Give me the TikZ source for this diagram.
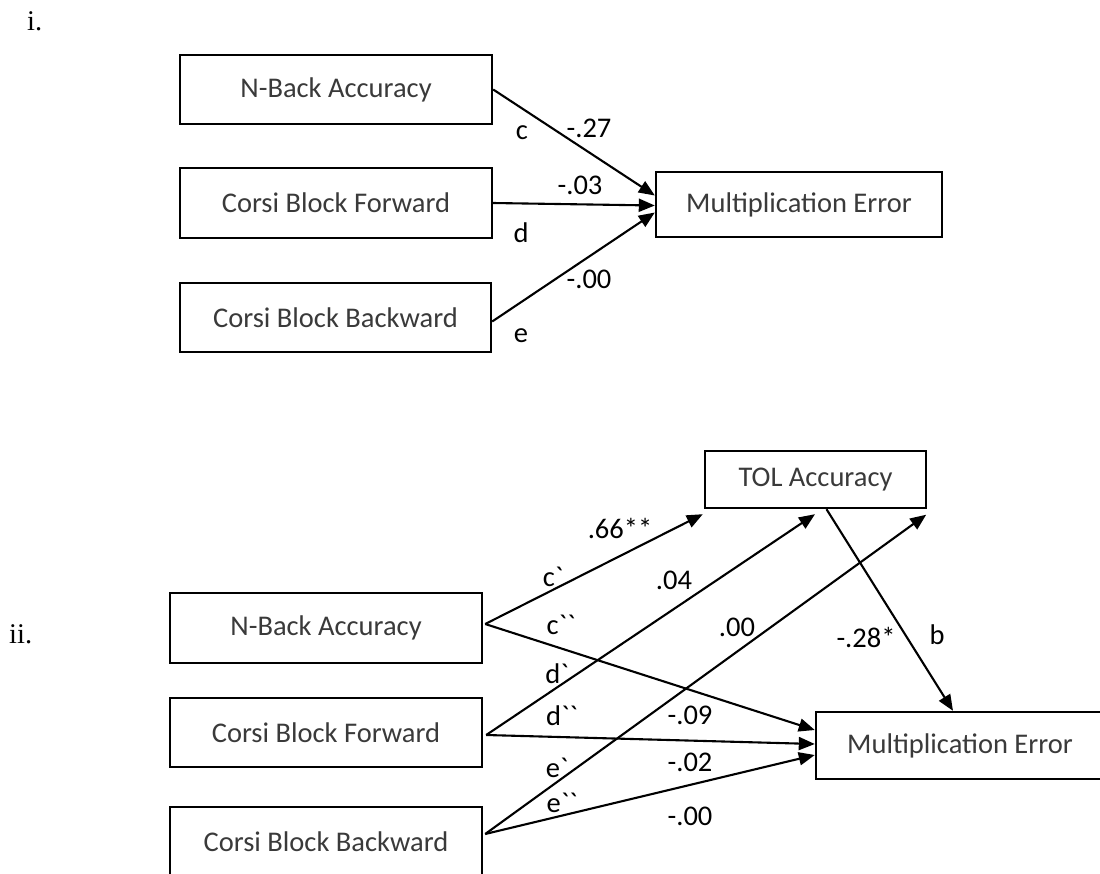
\documentclass[tikz,border=0pt]{standalone}
\usepackage{fontspec}
\setmainfont{Carlito}[Ligatures=TeXOff]
\newfontfamily\rmserif{Liberation Serif}
\usetikzlibrary{arrows.meta,calc}
\definecolor{txt}{HTML}{3A3A3A}
\newcommand\lblsize{\fontsize{28.5}{34}\selectfont}
\begin{document}
\begin{tikzpicture}[x=1pt,y=-1pt,
  box/.style={draw=black, line width=2.4pt, rectangle, inner sep=0pt, font=\lblsize, text=txt},
  arr/.style={line width=2.1pt, -{Triangle[length=16pt,width=13pt]}},
  lbl/.style={inner sep=0pt, font=\lblsize, text=black},
  num/.style={inner sep=0pt, font=\lblsize, text=black},
  part/.style={inner sep=0pt, anchor=base west, font=\rmserif\lblsize}]
\useasboundingbox (0,0) rectangle (1100,873);
\fill[white] (0,0) rectangle (1100,873);

% ---------- part i ----------
\node[part] (ri) at (27,30) {i.};
\node[box, minimum width=312pt, minimum height=69pt] (nbA) at (336,89.5) {N-Back Accuracy};
\node[box, minimum width=312pt, minimum height=70pt] (fwA) at (336,203) {Corsi Block Forward};
\node[box, minimum width=311pt, minimum height=69pt] (bwA) at (335.5,317.5) {Corsi Block Backward};
\node[box, minimum width=286pt, minimum height=65pt] (meA) at (799,204.5) {Multiplication Error};

\coordinate (sA3) at ($(bwA.east)+(0,4)$);
\draw[arr] (nbA.east) -- ($(meA.west)+(0,-9)$);
\draw[arr] (fwA.east) -- ($(meA.west)+(0,1)$);
\draw[arr] (sA3) -- ($(meA.west)+(0,8)$);

\node[lbl] (lc) at (522,133) {c};
\node[num] (n27) at (589,128) {-.27};
\node[num] (n03) at (580,185) {-.03};
\node[lbl] (ld) at (521,233) {d};
\node[num] (n00a) at (589,279) {-.00};
\node[lbl] (le) at (521,336) {e};

% ---------- part ii ----------
\node[part] (rii) at (9,643) {ii.};
\node[box, minimum width=221pt, minimum height=57pt] (tol) at (815.5,479.5) {TOL Accuracy};
\node[box, minimum width=312pt, minimum height=70pt] (nbB) at (326,628) {N-Back Accuracy};
\node[box, minimum width=312pt, minimum height=69pt] (fwB) at (326,732.5) {Corsi Block Forward};
\node[box, minimum width=312pt, minimum height=69pt] (bwB) at (326,841.5) {Corsi Block Backward};
\node[box, minimum width=288pt, minimum height=67pt] (meB) at (960,745.5) {Multiplication Error};

\coordinate (sN) at ($(nbB.east)+(2,-4)$);
\coordinate (sF) at ($(fwB.east)+(3,2.5)$);
\coordinate (sB) at ($(bwB.east)+(2,-7.5)$);

\draw[arr] (sN) -- ($(tol.south west)+(-1,5)$);
\draw[arr] (sN) -- ($(meB.west)+(0,-15.5)$);
\draw[arr] (sF) -- ($(tol.south)+(-0.5,5)$);
\draw[arr] (sF) -- ($(meB.west)+(0,-1.5)$);
\draw[arr] (sB) -- ($(tol.south east)+(-1,5.5)$);
\draw[arr] (sB) -- ($(meB.west)+(0,9.5)$);
\draw[arr] ($(tol.south)+(11,0)$) -- ($(meB.north)+(-7,0)$);

\node[num] (n66) at (620,528) {.66**};
\node[lbl] (lc1) at (553,577) {c`};
\node[num] (n04) at (674,580) {.04};
\node[lbl] (lc2) at (561,625) {c``};
\node[num] (n00b) at (737,627) {.00};
\node[num] (n28) at (866,637) {-.28*};
\node[lbl] (lb) at (937,635) {b};
\node[lbl] (ld1) at (557,674) {d`};
\node[lbl] (ld2) at (562,716) {d``};
\node[num] (n09) at (690,715) {-.09};
\node[lbl] (le1) at (557,768) {e`};
\node[num] (n02) at (690,762) {-.02};
\node[lbl] (le2) at (562,803) {e``};
\node[num] (n00c) at (690,816) {-.00};
\end{tikzpicture}
\end{document}
